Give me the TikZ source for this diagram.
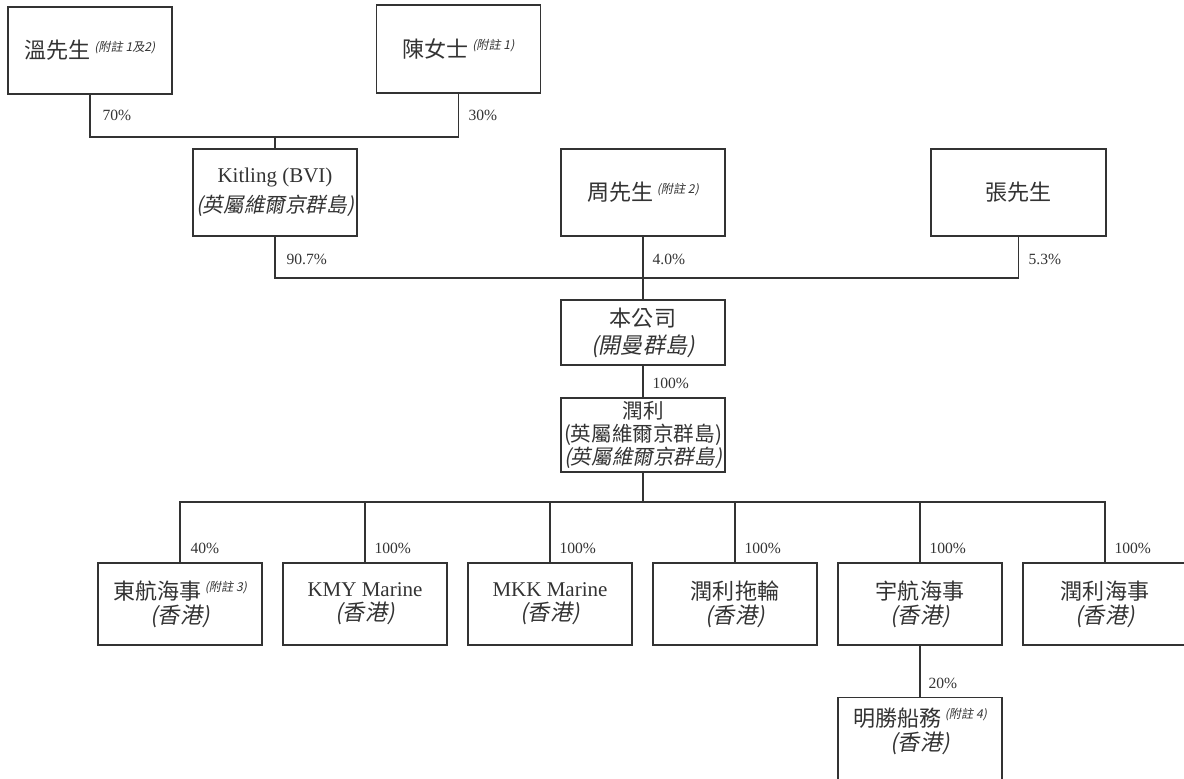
\documentclass[tikz,border=0pt]{standalone}
\usepackage{fontspec}
\setmainfont{Liberation Serif}
\newfontfamily\cjk[AutoFakeSlant=0.2,Scale=1.05]{Noto Sans CJK TC}
\newcommand{\zh}[1]{{\cjk #1}}
\newcommand{\loc}[1]{{\cjk\itshape(#1)}}
\newcommand{\fnote}[1]{\,\raisebox{0.8ex}{\fontsize{5.8}{7}\selectfont\cjk\itshape(附註 #1)}}

\begin{document}
\begin{tikzpicture}[x=0.5pt,y=-0.5pt,line width=0.55pt,color=black!80,
                    node distance=92.5pt,
                    unit/.style={draw,minimum width=82pt,minimum height=41pt,
                                 inner sep=0.5pt,align=center,
                                 font=\fontsize{10.5}{12}\selectfont},
                    pct/.style={anchor=west,inner sep=0pt,
                                font=\fontsize{7.8}{9}\selectfont}]

  \useasboundingbox (0,0) rectangle (1184,778);
  \clip (0,0) rectangle (1184,778);

  % owners
  \node[unit,minimum height=43.5pt] (wen)  at (90,50.5)    {\zh{溫先生}\fnote{1及2}};
  \node[unit,minimum height=44pt]   (chen) at (458.5,49)   {\zh{陳女士}\fnote{1}};
  \node[unit,minimum height=43.5pt] (kit)  at (275,192.5)
       {Kitling (BVI)\\[3pt]{\fontsize{9.8}{12}\selectfont\loc{英屬維爾京群島}}};
  \node[unit,minimum height=43.5pt] (zhou) at (643,192.5)  {\zh{周先生}\fnote{2}};
  \node[unit,minimum height=43.5pt,minimum width=87.5pt] (zhang) at (1018.5,192.5) {\zh{張先生}};

  % company
  \node[unit,minimum height=32.5pt] (co) at (643,332.5) {\zh{本公司}\\[1.5pt]\loc{開曼群島}};
  \node[unit,minimum height=37pt,font=\fontsize{9.8}{11.5}\selectfont] (rl) at (643,435)
       {\zh{潤利}\\\zh{(英屬維爾京群島)}\\\loc{英屬維爾京群島}};

  % subsidiaries
  \node[unit]               (dh)   at (180,604) {\zh{東航海事}\fnote{3}\\\loc{香港}};
  \node[unit,right of=dh]   (kmy)  {KMY Marine\\\loc{香港}};
  \node[unit,right of=kmy]  (mkk)  {MKK Marine\\\loc{香港}};
  \node[unit,right of=mkk]  (tug)  {\zh{潤利拖輪}\\\loc{香港}};
  \node[unit,right of=tug]  (yh)   {\zh{宇航海事}\\\loc{香港}};
  \node[unit,right of=yh]   (rlhs) {\zh{潤利海事}\\\loc{香港}};
  \node[unit,anchor=north,minimum height=0pt,inner ysep=5pt] (ms) at (920,697)
       {\zh{明勝船務}\fnote{4}\\\loc{香港}\\\strut};

  % links
  \coordinate (j1) at (275,137);
  \coordinate (j2) at (643,278);
  \coordinate (j3) at (643,502);
  \draw (wen.south) |- (j1) -| (chen.south);
  \draw (j1) -- (kit.north);
  \draw (kit.south) |- (j2) -| (zhang.south);
  \draw (zhou.south) -- (co.north);
  \draw (co.south) -- (rl.north);
  \draw (rl.south) -- (j3);
  \draw (dh.north) |- (j3) -| (rlhs.north);
  \foreach \n in {kmy,mkk,tug,yh}
    \draw (\n.north) -- (\n.north |- j3);
  \draw (yh.south) -- (ms.north);

  % shares
  \node[pct] (pwen)  at (102,115)  {70\%};
  \node[pct] (pchen) at (468,115)  {30\%};
  \node[pct] (pkit)  at (286,259)  {90.7\%};
  \node[pct] (pzhou) at (652,259)  {4.0\%};
  \node[pct] (pzhang) at (1028,259) {5.3\%};
  \node[pct] (pco)   at (652,383)  {100\%};
  \node[pct] (pdh)   at (190,548)  {40\%};
  \foreach \n in {kmy,mkk,tug,yh,rlhs}
    \node[pct,xshift=4.5pt] (p\n) at (\n.north |- 0,548) {100\%};
  \node[pct] (pms)   at (928,683)  {20\%};
\end{tikzpicture}
\end{document}
